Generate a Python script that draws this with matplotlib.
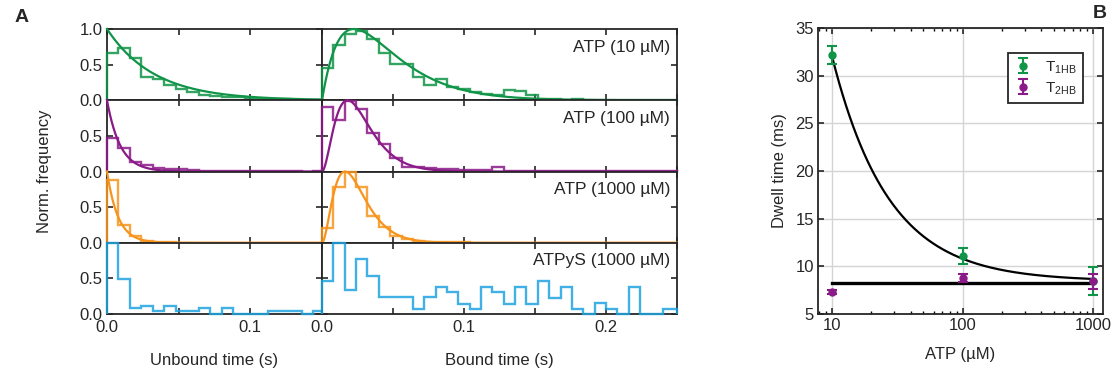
import numpy as np
import matplotlib.pyplot as plt
from matplotlib.ticker import FixedLocator, FixedFormatter, LogLocator, NullFormatter

plt.rcParams['font.family'] = ['Liberation Sans', 'DejaVu Sans']
plt.rcParams['text.color'] = '#262626'
plt.rcParams['axes.labelcolor'] = '#262626'

# ---- data ----
bin_width = 0.008
labels = ['ATP (10 µM)', 'ATP (100 µM)', 'ATP (1000 µM)', 'ATPyS (1000 µM)']
colors = ['#109447', '#8b1a89', '#f7941d', '#1fa3e0']

unbound_10 = [0.66, 0.74, 0.60, 0.33, 0.305, 0.22, 0.155, 0.12, 0.08, 0.06,
              0.05, 0.04, 0.03, 0.02, 0.02, 0.015, 0.01, 0.01, 0.005]
unbound_100 = [0.47, 0.33, 0.13, 0.094, 0.05, 0.03, 0.03, 0.015, 0.01, 0.01,
               0.005, 0.01, 0.005, 0.005, 0.01, 0.005, 0.005, 0.0, 0.005]
unbound_1000 = [0.88, 0.245, 0.10, 0.03, 0.01, 0.005, 0.0, 0.0, 0.0, 0.0,
                0.0, 0.0, 0.0, 0.0, 0.0, 0.0, 0.0, 0.0, 0.0]
unbound_atpys = [1.0, 0.49, 0.085, 0.115, 0.04, 0.115, 0.04, 0.04, 0.085, 0.0,
                 0.085, 0.0, 0.0, 0.0, 0.04, 0.04, 0.04, 0.0, 0.04]

bound_10 = [0.455, 0.775, 0.925, 0.97, 0.86, 0.66, 0.505, 0.505, 0.33, 0.21,
            0.30, 0.19, 0.155, 0.12, 0.09, 0.07, 0.14, 0.13, 0.07, 0.02,
            0.02, 0.01, 0.02, 0.01, 0.01, 0.005, 0.01, 0.005, 0.01, 0.005, 0.005, 0.005]
bound_100 = [0.90, 0.73, 0.99, 0.88, 0.545, 0.39, 0.19, 0.07, 0.06, 0.05,
             0.04, 0.03, 0.02, 0.02, 0.015, 0.07, 0.01, 0.01, 0.005, 0.005,
             0.005, 0.005, 0.005, 0.005, 0.005, 0.005, 0.005, 0.005, 0.005, 0.005, 0.005, 0.005]
bound_1000 = [0.21, 0.78, 1.0, 0.78, 0.38, 0.22, 0.09, 0.05, 0.02, 0.01,
              0.01, 0.005, 0.005, 0.0, 0.0, 0.0, 0.0, 0.0, 0.0, 0.0,
              0.0, 0.0, 0.0, 0.0, 0.0, 0.0, 0.0, 0.0, 0.0, 0.0, 0.0, 0.0]
bound_atpys = [0.47, 1.0, 0.34, 0.77, 0.53, 0.235, 0.235, 0.235, 0.07, 0.235,
               0.385, 0.305, 0.14, 0.07, 0.385, 0.305, 0.14, 0.385, 0.14, 0.46,
               0.225, 0.385, 0.07, 0.0, 0.15, 0.07, 0.0, 0.385, 0.0, 0.0, 0.07, 0.07]

unbound_hists = [unbound_10, unbound_100, unbound_1000, unbound_atpys]
bound_hists = [bound_10, bound_100, bound_1000, bound_atpys]

# fit parameters (single exponential for unbound, gamma-like for bound)
unbound_tau = [0.033, 0.0092, 0.0077, None]
bound_fit = [(1, 0.0225), (2, 0.009), (2, 0.0081), None]

# panel B
atp = [10, 100, 1000]
t1hb = [32.15, 11.1, 8.48]
t1hb_err = [0.96, 0.86, 1.49]
t2hb = [7.28, 8.8, 8.45]
t2hb_err = [0.2, 0.44, 0.79]
fit_t0, fit_a = 8.44, 235.6     # T = T0 + A / [ATP]
t2hb_level = 8.2

W, H = 1113, 373
fig = plt.figure(figsize=(W / 100, H / 100), dpi=100)


def box(l, t, r, b):
    return [l / W, 1 - b / H, (r - l) / W, (b - t) / H]


def clipped(vals, xmax):
    edges = np.arange(len(vals) + 1) * bin_width
    keep = edges[:-1] < xmax
    vals = np.asarray(vals)[keep]
    edges = np.minimum(edges[:len(vals) + 1], xmax)
    return vals, edges


def style(ax, lw=1.3):
    for s in ax.spines.values():
        s.set_linewidth(lw)
        s.set_color('#262626')
    ax.tick_params(direction='in', top=True, right=True, length=4, width=1.2,
                   labelsize=12, colors='#262626', pad=3)


rows = [29, 100.3, 171.5, 242.8, 314]
for i in range(4):
    top, bot = rows[i], rows[i + 1]
    axu = fig.add_axes(box(107, top, 322, bot))
    axb = fig.add_axes(box(322, top, 677, bot))
    for ax, xmax in ((axu, 0.15), (axb, 0.25)):
        ax.set_xlim(0, xmax)
        ax.set_ylim(0, 1)
        style(ax)
    c = colors[i]
    v, e = clipped(unbound_hists[i], 0.15)
    axu.stairs(v, e, baseline=0, color=c, lw=1.7, alpha=0.85, clip_on=False, zorder=3)
    v, e = clipped(bound_hists[i], 0.25)
    axb.stairs(v, e, baseline=0, color=c, lw=1.7, alpha=0.85, clip_on=False, zorder=3)
    if unbound_tau[i] is not None:
        t = np.linspace(0, 0.15, 400)
        axu.plot(t, np.exp(-t / unbound_tau[i]), color=c, lw=1.6, clip_on=False, zorder=4)
        n, th = bound_fit[i]
        t = np.linspace(0, 0.25, 600)
        axb.plot(t, (t / (n * th)) ** n * np.exp(n - t / th), color=c, lw=1.6,
                 clip_on=False, zorder=4)

    axu.set_xticks([0, 0.05, 0.1, 0.15])
    axb.set_xticks([0, 0.05, 0.1, 0.15, 0.2, 0.25])
    if i == 0:
        axu.set_yticks([0, 0.5, 1.0])
        axu.set_yticklabels(['0.0', '0.5', '1.0'])
    else:
        axu.set_yticks([0, 0.5])
        axu.set_yticklabels(['0.0', '0.5'])
    axb.set_yticks([0, 0.5])
    axb.set_yticklabels([])
    if i == 3:
        axu.set_xticklabels(['0.0', '', '0.1', ''])
        axb.set_xticklabels(['0.0', '', '0.1', '', '0.2', ''])
        axu.tick_params(axis='x', pad=4)
        axb.tick_params(axis='x', pad=4)
        axu.set_xlabel('Unbound time (s)', fontsize=12, labelpad=13)
        axb.set_xlabel('Bound time (s)', fontsize=12, labelpad=13)
    else:
        axu.set_xticklabels([])
        axb.set_xticklabels([])
    axb.text(0.98, 0.745, labels[i], transform=axb.transAxes, ha='right',
             va='center', fontsize=12.5)

fig.text(45 / W, 1 - 171 / H, 'Norm. frequency', rotation=90, ha='center',
         va='center', fontsize=12)
fig.text(15 / W, 1 - 18 / H, 'A', fontsize=14, weight='bold', ha='left', va='center')
fig.text(1093 / W, 1 - 13 / H, 'B', fontsize=14, weight='bold', ha='left', va='center')

# ---- panel B ----
axB = fig.add_axes(box(818, 28, 1103, 314))
axB.set_xscale('log')
axB.set_xlim(7.8, 1190)
axB.set_ylim(5, 35)
style(axB)
axB.grid(True, which='major', color='#d4d4d4', lw=1.0)
axB.set_axisbelow(True)
axB.xaxis.set_major_locator(FixedLocator([10, 100, 1000]))
axB.xaxis.set_major_formatter(FixedFormatter(['10', '100', '1000']))
axB.xaxis.set_minor_locator(LogLocator(base=10, subs=np.arange(2, 10)))
axB.xaxis.set_minor_formatter(NullFormatter())
axB.tick_params(which='minor', direction='in', top=True, length=2.5, width=1.0)
axB.set_yticks(np.arange(5, 36, 5))

x = np.logspace(1, 3, 300)
axB.plot(x, fit_t0 + fit_a / x, color='black', lw=1.6, zorder=3)
axB.plot([10, 1000], [t2hb_level, t2hb_level], color='black', lw=2.4, zorder=3)
axB.errorbar(atp, t1hb, yerr=t1hb_err, fmt='o', color=colors[0], ms=5,
             capsize=3.5, elinewidth=1.5, capthick=1.5, label=r'T$_{\mathregular{1HB}}$', zorder=4)
axB.errorbar(atp, t2hb, yerr=t2hb_err, fmt='o', color=colors[1], ms=5,
             capsize=3.5, elinewidth=1.5, capthick=1.5, label=r'T$_{\mathregular{2HB}}$', zorder=4)
leg = axB.legend(loc='upper right', bbox_to_anchor=(0.955, 0.94), fontsize=11,
                 fancybox=False, framealpha=1, edgecolor='#262626',
                 handlelength=1.2, borderpad=0.4, labelspacing=0.3)
leg.get_frame().set_linewidth(1.3)
axB.set_xlabel('ATP (µM)', fontsize=12, labelpad=10)
axB.set_ylabel('Dwell time (ms)', fontsize=12, labelpad=6)

fig.savefig('out.png', dpi=100)
